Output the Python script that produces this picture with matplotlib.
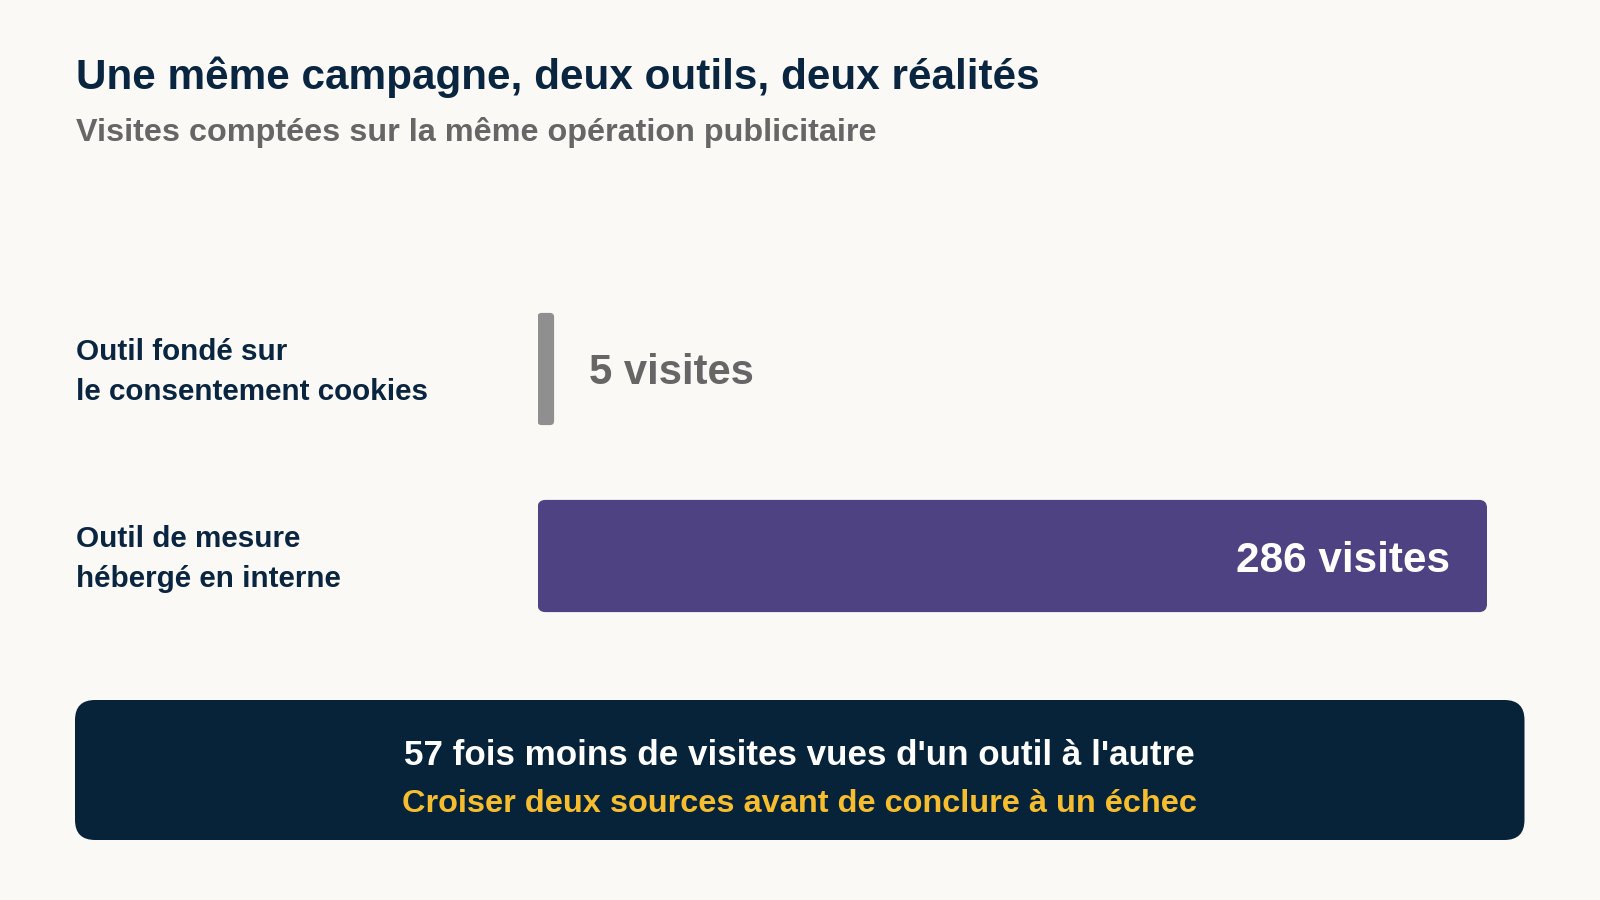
import matplotlib
matplotlib.use("Agg")
import matplotlib.pyplot as plt
from matplotlib.patches import FancyBboxPatch
import matplotlib.transforms as mtransforms

plt.rcParams['font.family'] = ['Liberation Sans', 'DejaVu Sans']

# ---- data ----
categories = ["Outil fondé sur\nle consentement cookies",
              "Outil de mesure\nhébergé en interne"]
values = [5, 286]
value_labels = ["5 visites", "286 visites"]
title = "Une même campagne, deux outils, deux réalités"
subtitle = "Visites comptées sur la même opération publicitaire"
callout_main = "57 fois moins de visites vues d'un outil à l'autre"
callout_sub = "Croiser deux sources avant de conclure à un échec"

# ---- style ----
BG = "#faf9f6"
NAVY = "#0a2540"
GRAY_TXT = "#666666"
BAR_COLORS = ["#8f8f8f", "#4e4283"]
BOX = "#07233a"
YELLOW = "#f6bd2e"

W, H = 1600, 900
fig = plt.figure(figsize=(16, 9), dpi=100, facecolor=BG)

# title & subtitle
fig.text(76.5 / W, 1 - 89.3 / H, title, fontsize=30.4, fontweight='bold',
         color=NAVY, ha='left', va='baseline')
fig.text(76.5 / W, 1 - 141 / H, subtitle, fontsize=23.3, fontweight='bold',
         color=GRAY_TXT, ha='left', va='baseline')

# bar axes
ax_left, ax_right = 537.5, 1487.0
ax_top, ax_bot = 275.5, 649.5
ax = fig.add_axes([ax_left / W, 1 - ax_bot / H, (ax_right - ax_left) / W,
                   (ax_bot - ax_top) / H])
ax.set_facecolor('none')
ax.set_xlim(0, max(values))
ax.set_ylim(1.5, -0.5)
ax.axis('off')

pos = list(range(len(categories)))
bars = ax.barh(pos, values, height=0.6, color=BAR_COLORS)

# convert to rounded bars
px_per_x = (ax_right - ax_left) / max(values)
px_per_y = (ax_bot - ax_top) / 2.0
aspect = (1 / px_per_y) / (1 / px_per_x)
for b, c in zip(bars, BAR_COLORS):
    x0, y0 = b.get_x(), b.get_y()
    w, h = b.get_width(), b.get_height()
    w_px = w * px_per_x
    r_px = min(8.0, w_px / 4.0)
    r = r_px / px_per_x
    b.set_visible(False)
    p = FancyBboxPatch((x0, y0), w, h,
                       boxstyle=f"round,pad=0,rounding_size={r}",
                       mutation_aspect=aspect, facecolor=c, edgecolor='none')
    ax.add_patch(p)

# category labels
trans = mtransforms.blended_transform_factory(fig.transFigure, ax.transData)
for p_, cat in zip(pos, categories):
    ax.text(76.5 / W, p_ + 0.017, cat, transform=trans, fontsize=21.3,
            fontweight='bold', color=NAVY, ha='left', va='center',
            linespacing=1.55)

# value labels
for i, (v, lab) in enumerate(zip(values, value_labels)):
    if i == 0:
        ax.annotate(lab, (v, i), xytext=(25.2, 0), textcoords='offset points',
                    fontsize=30.1, fontweight='bold', color=GRAY_TXT,
                    ha='left', va='center_baseline')
    else:
        ax.annotate(lab, (v, i), xytext=(-26.4, 0), textcoords='offset points',
                    fontsize=30.4, fontweight='bold', color='white',
                    ha='right', va='center_baseline')

# callout box
bx0, bx1, by0, by1 = 75, 1524.5, 700, 840
box = FancyBboxPatch((bx0 / 100, (H - by1) / 100), (bx1 - bx0) / 100,
                     (by1 - by0) / 100,
                     boxstyle="round,pad=0,rounding_size=0.2",
                     transform=fig.dpi_scale_trans, facecolor=BOX,
                     edgecolor='none')
fig.patches.append(box)
cx = (bx0 + bx1) / 2 / W
fig.text(cx, 1 - 765 / H, callout_main, fontsize=25.2, fontweight='bold',
         color='white', ha='center', va='baseline')
fig.text(cx, 1 - 811.7 / H, callout_sub, fontsize=23.4, fontweight='bold',
         color=YELLOW, ha='center', va='baseline')

fig.savefig("out.png", dpi=100, facecolor=BG)
